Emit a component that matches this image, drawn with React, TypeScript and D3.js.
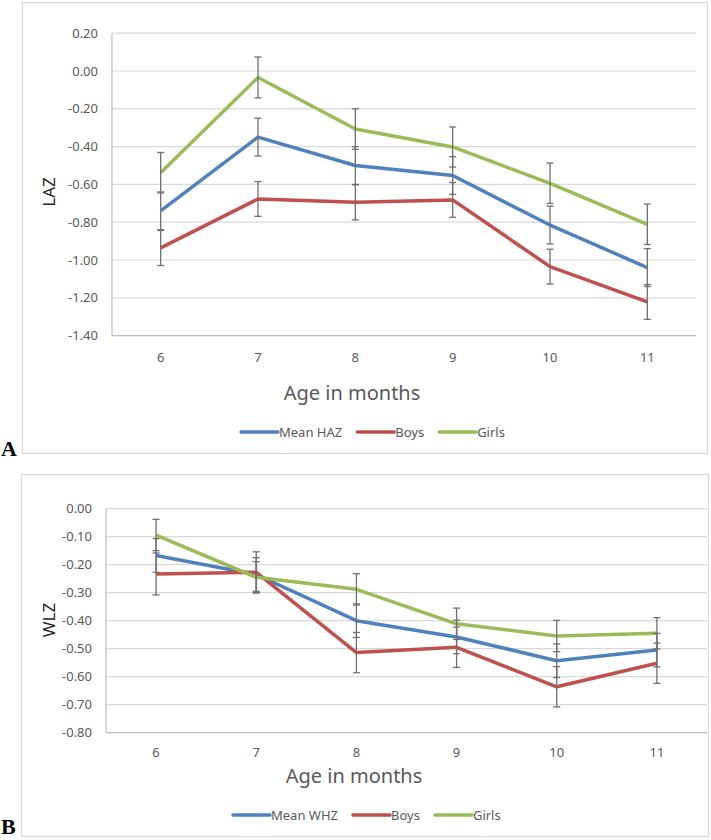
import React, { useEffect, useRef } from 'react';
import * as d3 from 'd3';

// Age categories (x axis)
const ages = ['6', '7', '8', '9', '10', '11'];

// Panel A: length-for-age z-scores
const lazTicks = [0.2, 0, -0.2, -0.4, -0.6, -0.8, -1.0, -1.2, -1.4];
const meanHAZ = [-0.74, -0.35, -0.5, -0.553, -0.815, -1.04];
const boysLAZ = [-0.936, -0.677, -0.695, -0.682, -1.035, -1.222];
const girlsLAZ = [-0.538, -0.034, -0.307, -0.402, -0.594, -0.811];
const meanHAZErr = [0.1, 0.1, 0.1, 0.1, 0.1, 0.1];
const boysLAZErr = [0.093, 0.092, 0.093, 0.092, 0.092, 0.092];
const girlsLAZErr = [0.107, 0.108, 0.107, 0.106, 0.107, 0.107];

// Panel B: weight-for-length z-scores
const wlzTicks = [0, -0.1, -0.2, -0.3, -0.4, -0.5, -0.6, -0.7, -0.8];
const meanWHZ = [-0.167, -0.235, -0.4, -0.458, -0.543, -0.505];
const boysWLZ = [-0.233, -0.227, -0.514, -0.495, -0.636, -0.552];
const girlsWLZ = [-0.094, -0.245, -0.288, -0.411, -0.455, -0.445];
const meanWHZErr = [0.06, 0.06, 0.06, 0.06, 0.06, 0.06];
const boysWLZErr = [0.075, 0.073, 0.072, 0.072, 0.072, 0.072];
const girlsWLZErr = [0.056, 0.056, 0.056, 0.056, 0.056, 0.056];

const colors = { mean: '#4f81bd', boys: '#c0504d', girls: '#9bbb59' };
const font = "'Noto Sans', 'Open Sans', sans-serif";
const textColor = '#595959';

interface Series {
  name: string;
  color: string;
  values: number[];
  errors: number[];
}

interface PanelLayout {
  box: { x: number; y: number; w: number; h: number };
  plot: { left: number; right: number; top: number; bottom: number };
  tickLabelX: number;
  xLabelY: number;
  titleY: number;
  titleX: number;
  legendX: number;
  legendY: number;
  yLabel: { x: number; y: number };
  letter: { text: string; x: number; y: number };
}

function drawPanel(
  root: d3.Selection<SVGSVGElement, unknown, null, undefined>,
  layout: PanelLayout,
  ticks: number[],
  yTitle: string,
  series: Series[]
) {
  const { box, plot } = layout;
  const g = root.append('g');

  // chart area border
  g.append('rect')
    .attr('x', box.x + 0.5)
    .attr('y', box.y + 0.5)
    .attr('width', box.w)
    .attr('height', box.h)
    .attr('fill', '#fff')
    .attr('stroke', '#d9d9d9')
    .attr('stroke-width', 1.2);

  const x = d3.scaleBand().domain(ages).range([plot.left, plot.right]);
  const y = d3.scaleLinear()
    .domain([d3.min(ticks) as number, d3.max(ticks) as number])
    .range([plot.bottom, plot.top]);

  // gridlines
  g.append('g')
    .selectAll('line')
    .data(ticks)
    .enter()
    .append('line')
    .attr('x1', plot.left)
    .attr('x2', plot.right)
    .attr('y1', d => y(d))
    .attr('y2', d => y(d))
    .attr('stroke', '#d9d9d9')
    .attr('stroke-width', 1.2);

  // axis lines
  g.append('line')
    .attr('x1', plot.left).attr('x2', plot.left)
    .attr('y1', plot.top).attr('y2', plot.bottom)
    .attr('stroke', '#bfbfbf').attr('stroke-width', 1.2);
  g.append('line')
    .attr('x1', plot.left).attr('x2', plot.right)
    .attr('y1', plot.bottom).attr('y2', plot.bottom)
    .attr('stroke', '#bfbfbf').attr('stroke-width', 1.2);

  // y tick labels
  g.append('g')
    .selectAll('text')
    .data(ticks)
    .enter()
    .append('text')
    .attr('x', layout.tickLabelX)
    .attr('y', d => y(d))
    .attr('dy', '0.35em')
    .attr('text-anchor', 'end')
    .attr('font-family', font)
    .attr('font-size', 13)
    .attr('fill', textColor)
    .text(d => d3.format('.2f')(d).replace('−', '-'));

  // x tick labels
  g.append('g')
    .selectAll('text')
    .data(ages)
    .enter()
    .append('text')
    .attr('x', d => (x(d) as number) + x.bandwidth() / 2)
    .attr('y', layout.xLabelY)
    .attr('text-anchor', 'middle')
    .attr('font-family', font)
    .attr('font-size', 13)
    .attr('fill', textColor)
    .text(d => d);

  // axis titles
  g.append('text')
    .attr('x', layout.titleX)
    .attr('y', layout.titleY)
    .attr('text-anchor', 'middle')
    .attr('font-family', font)
    .attr('font-size', 20)
    .attr('fill', textColor)
    .text('Age in months');

  g.append('text')
    .attr('transform', `translate(${layout.yLabel.x},${layout.yLabel.y}) rotate(-90)`)
    .attr('dy', '0.35em')
    .attr('text-anchor', 'middle')
    .attr('font-family', font)
    .attr('font-size', 17)
    .attr('fill', '#262626')
    .text(yTitle);

  // lines
  const line = d3.line<number>()
    .x((_, i) => (x(ages[i]) as number) + x.bandwidth() / 2)
    .y(d => y(d));

  series.forEach(s => {
    g.append('path')
      .datum(s.values)
      .attr('d', line)
      .attr('fill', 'none')
      .attr('stroke', s.color)
      .attr('stroke-width', 3.5)
      .attr('stroke-linejoin', 'round');
  });

  // error bars
  series.forEach(s => {
    const eb = g.append('g').attr('stroke', '#6f6f6f').attr('stroke-width', 1.3);
    s.values.forEach((v, i) => {
      const cx = (x(ages[i]) as number) + x.bandwidth() / 2;
      const hi = y(v + s.errors[i]);
      const lo = y(v - s.errors[i]);
      eb.append('line').attr('x1', cx).attr('x2', cx).attr('y1', hi).attr('y2', lo);
      eb.append('line').attr('x1', cx - 3.5).attr('x2', cx + 3.5).attr('y1', hi).attr('y2', hi);
      eb.append('line').attr('x1', cx - 3.5).attr('x2', cx + 3.5).attr('y1', lo).attr('y2', lo);
    });
  });

  // legend
  let lx = layout.legendX;
  series.forEach(s => {
    g.append('line')
      .attr('x1', lx).attr('x2', lx + 37)
      .attr('y1', layout.legendY).attr('y2', layout.legendY)
      .attr('stroke', s.color).attr('stroke-width', 3.5)
      .attr('stroke-linecap', 'round');
    const t = g.append('text')
      .attr('x', lx + 38)
      .attr('y', layout.legendY)
      .attr('dy', '0.35em')
      .attr('font-family', font)
      .attr('font-size', 13)
      .attr('fill', textColor)
      .text(s.name);
    const w = (t.node() as SVGTextElement).getComputedTextLength();
    lx += 38 + w + 15;
  });

  // panel letter
  root.append('text')
    .attr('x', layout.letter.x)
    .attr('y', layout.letter.y)
    .attr('font-family', "'Liberation Serif', 'DejaVu Serif', serif")
    .attr('font-weight', 'bold')
    .attr('font-size', 22)
    .attr('fill', '#000')
    .text(layout.letter.text);
}

export default function App() {
  const svgRef = useRef<SVGSVGElement>(null);

  useEffect(() => {
    if (!svgRef.current) return;
    const svg = d3.select(svgRef.current);
    svg.selectAll('*').remove();

    svg.append('rect').attr('width', 711).attr('height', 840).attr('fill', '#fff');

    drawPanel(
      svg,
      {
        box: { x: 22, y: 2, w: 685, h: 451 },
        plot: { left: 112, right: 696, top: 33.2, bottom: 335.6 },
        tickLabelX: 98,
        xLabelY: 362,
        titleX: 352,
        titleY: 400,
        legendX: 241,
        legendY: 432,
        yLabel: { x: 49, y: 192 },
        letter: { text: 'A', x: 1, y: 456 },
      },
      lazTicks,
      'LAZ',
      [
        { name: 'Mean HAZ', color: colors.mean, values: meanHAZ, errors: meanHAZErr },
        { name: 'Boys', color: colors.boys, values: boysLAZ, errors: boysLAZErr },
        { name: 'Girls', color: colors.girls, values: girlsLAZ, errors: girlsLAZErr },
      ]
    );

    drawPanel(
      svg,
      {
        box: { x: 21, y: 474, w: 687, h: 362 },
        plot: { left: 106, right: 707, top: 508.7, bottom: 732.7 },
        tickLabelX: 92,
        xLabelY: 757,
        titleX: 354,
        titleY: 783,
        legendX: 233,
        legendY: 815,
        yLabel: { x: 49, y: 620 },
        letter: { text: 'B', x: 1, y: 834 },
      },
      wlzTicks,
      'WLZ',
      [
        { name: 'Mean WHZ', color: colors.mean, values: meanWHZ, errors: meanWHZErr },
        { name: 'Boys', color: colors.boys, values: boysWLZ, errors: boysWLZErr },
        { name: 'Girls', color: colors.girls, values: girlsWLZ, errors: girlsWLZErr },
      ]
    );
  }, []);

  return (
    <svg
      ref={svgRef}
      width={711}
      height={840}
      style={{ position: 'absolute', left: 0, top: 0, display: 'block' }}
    />
  );
}
